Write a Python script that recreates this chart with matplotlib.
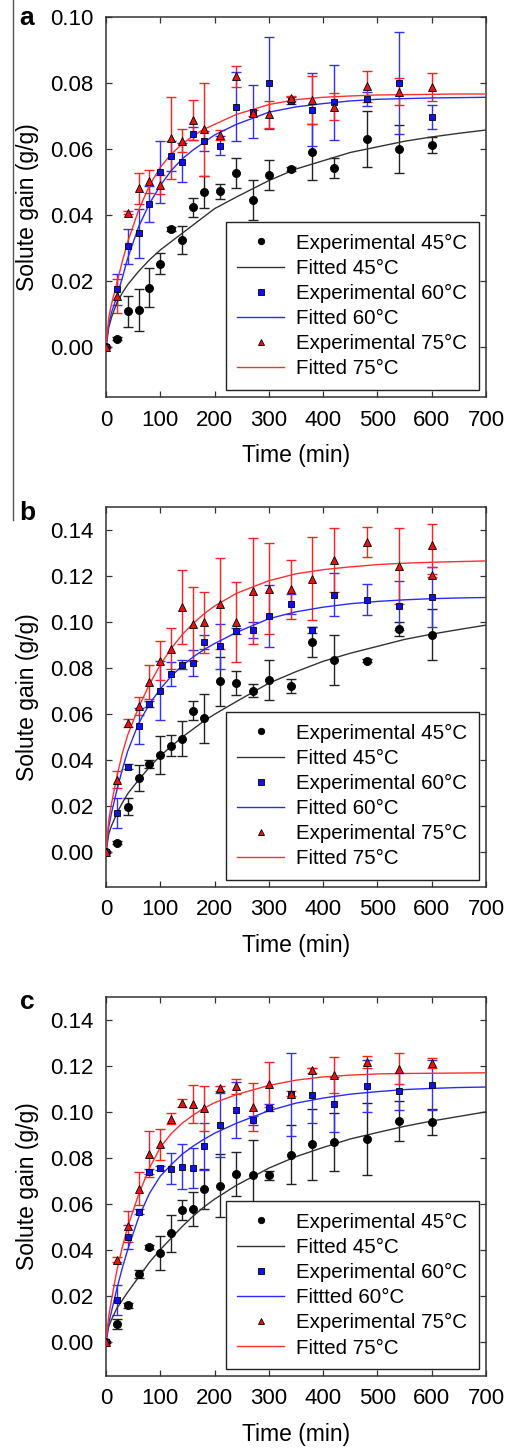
import matplotlib
matplotlib.use('Agg')
import matplotlib.pyplot as plt
from matplotlib.lines import Line2D

plt.rcParams['font.family'] = ['Liberation Sans', 'DejaVu Sans']

# sampling times (min)
time_exp = [0, 20, 40, 60, 80, 100, 120, 140, 160, 180, 210, 240, 270, 300, 340, 380, 420, 480, 540, 600]
time_fit = [0, 5, 10, 20, 30, 40, 60, 80, 100, 120, 140, 160, 180, 200, 240, 300, 350, 400, 450, 500, 550, 600, 650, 700]

# ---- panel a ----
a45 = [0, 0.0027, 0.0109, 0.0113, 0.018, 0.0254, 0.0358, 0.0326, 0.0424, 0.0471, 0.0472, 0.0528, 0.0447, 0.0521, 0.054, 0.0592, 0.0543, 0.063, 0.060, 0.0613]
a45_err = [0, 0.0005, 0.0046, 0.0064, 0.0059, 0.0033, 0.0007, 0.0042, 0.0029, 0.0048, 0.0023, 0.0045, 0.006, 0.0045, 0.0005, 0.0084, 0.0031, 0.0085, 0.0072, 0.0025]
a60 = [0, 0.0176, 0.0306, 0.0345, 0.0434, 0.053, 0.058, 0.056, 0.0647, 0.0625, 0.0611, 0.0729, 0.0713, 0.080, 0.0747, 0.072, 0.0742, 0.0753, 0.080, 0.0698]
a60_err = [0, 0.0047, 0.0052, 0.0073, 0.0055, 0.0094, 0.0045, 0.006, 0.002, 0.003, 0.003, 0.0105, 0.008, 0.0139, 0.001, 0.0111, 0.0114, 0.0021, 0.0154, 0.0036]
a75 = [0, 0.0155, 0.0408, 0.0481, 0.0503, 0.0493, 0.0635, 0.0625, 0.0688, 0.066, 0.0644, 0.082, 0.0709, 0.0705, 0.0754, 0.0749, 0.0729, 0.079, 0.0774, 0.0788]
a75_err = [0, 0.0052, 0.0005, 0.0047, 0.0035, 0.003, 0.0124, 0.0035, 0.006, 0.014, 0.0015, 0.0033, 0.001, 0.004, 0.0008, 0.0072, 0.004, 0.0047, 0.004, 0.0043]
fit_a45 = [0, 0.006, 0.009, 0.0135, 0.0165, 0.019, 0.023, 0.0265, 0.0295, 0.032, 0.0345, 0.037, 0.0395, 0.042, 0.0455, 0.0505, 0.054, 0.0565, 0.059, 0.0607, 0.0624, 0.0637, 0.0648, 0.0658]
fit_a60 = [0, 0.007, 0.0105, 0.0155, 0.021, 0.027, 0.0365, 0.0435, 0.049, 0.0535, 0.057, 0.0597, 0.062, 0.0643, 0.0675, 0.0712, 0.0728, 0.0738, 0.0746, 0.0751, 0.0753, 0.0755, 0.0756, 0.0757]
fit_a75 = [0, 0.009, 0.013, 0.0195, 0.026, 0.032, 0.0415, 0.049, 0.0545, 0.0585, 0.0615, 0.064, 0.066, 0.0675, 0.0705, 0.0735, 0.075, 0.0757, 0.0761, 0.0764, 0.0765, 0.0766, 0.0767, 0.0767]

# ---- panel b ----
b45 = [0, 0.0043, 0.0199, 0.0322, 0.0384, 0.0423, 0.0464, 0.0493, 0.0616, 0.0582, 0.0743, 0.0736, 0.0703, 0.0747, 0.0722, 0.0914, 0.0837, 0.0833, 0.0971, 0.0946]
b45_err = [0, 0.0007, 0.0038, 0.0057, 0.0017, 0.0083, 0.0046, 0.0076, 0.0043, 0.0106, 0.0106, 0.0051, 0.003, 0.0087, 0.0029, 0.0065, 0.0109, 0.0006, 0.0029, 0.0109]
b60 = [0, 0.0172, 0.0372, 0.0551, 0.0645, 0.0703, 0.0775, 0.0816, 0.0823, 0.0913, 0.0896, 0.0962, 0.0965, 0.1026, 0.1079, 0.0966, 0.112, 0.1098, 0.1071, 0.1108]
b60_err = [0, 0.0064, 0.001, 0.0078, 0.0012, 0.0128, 0.0053, 0.002, 0.0058, 0.003, 0.0098, 0.0012, 0.0035, 0.0136, 0.0044, 0.0015, 0.0093, 0.0069, 0.0106, 0.013]
time_b75 = time_exp + [600]
b75 = [0, 0.0316, 0.0561, 0.0635, 0.0742, 0.0833, 0.0885, 0.1065, 0.0991, 0.100, 0.108, 0.100, 0.1137, 0.1145, 0.1142, 0.1188, 0.1271, 0.1348, 0.1243, 0.1333, 0.1203]
b75_err = [0, 0.0036, 0.0018, 0.004, 0.0074, 0.0085, 0.0089, 0.016, 0.016, 0.0132, 0.0197, 0.0174, 0.023, 0.0198, 0.013, 0.018, 0.0138, 0.0065, 0.0164, 0.0093, 0.0005]
fit_b45 = [0, 0.008, 0.0115, 0.017, 0.0215, 0.0255, 0.0315, 0.037, 0.042, 0.046, 0.050, 0.0535, 0.057, 0.060, 0.0655, 0.0735, 0.0785, 0.083, 0.0865, 0.0895, 0.0925, 0.0948, 0.0968, 0.0987]
fit_b60 = [0, 0.011, 0.017, 0.027, 0.036, 0.044, 0.056, 0.0645, 0.071, 0.0765, 0.081, 0.0848, 0.088, 0.0907, 0.0955, 0.1015, 0.1045, 0.1065, 0.108, 0.109, 0.1097, 0.1102, 0.1105, 0.1107]
fit_b75 = [0, 0.014, 0.021, 0.033, 0.043, 0.051, 0.063, 0.073, 0.0815, 0.0885, 0.0945, 0.0993, 0.1035, 0.107, 0.1125, 0.118, 0.121, 0.1228, 0.124, 0.125, 0.1256, 0.126, 0.1263, 0.1266]

# ---- panel c ----
c45 = [0, 0.0076, 0.0157, 0.0294, 0.0411, 0.0385, 0.0471, 0.0571, 0.0577, 0.0664, 0.0679, 0.073, 0.0727, 0.0723, 0.0814, 0.0858, 0.0868, 0.0883, 0.096, 0.0955]
c45_err = [0, 0.002, 0.001, 0.0018, 0.001, 0.0073, 0.0081, 0.0044, 0.0073, 0.0087, 0.0136, 0.0095, 0.015, 0.0018, 0.0127, 0.0155, 0.0126, 0.0156, 0.0086, 0.0056]
c60 = [0, 0.0182, 0.0455, 0.0566, 0.074, 0.0756, 0.0753, 0.076, 0.0756, 0.085, 0.0942, 0.1008, 0.0963, 0.1018, 0.1076, 0.1072, 0.1032, 0.1112, 0.109, 0.1117]
c60_err = [0, 0.0065, 0.0053, 0.001, 0.001, 0.001, 0.0069, 0.0098, 0.0087, 0.0102, 0.014, 0.012, 0.002, 0.0015, 0.018, 0.012, 0.0119, 0.0112, 0.0081, 0.0107]
c75 = [0, 0.0356, 0.0502, 0.0666, 0.0817, 0.0858, 0.0971, 0.104, 0.1035, 0.1015, 0.1102, 0.1112, 0.1022, 0.112, 0.1079, 0.1181, 0.116, 0.1217, 0.1188, 0.1214]
c75_err = [0, 0.001, 0.0067, 0.0071, 0.01, 0.0069, 0.0025, 0.0018, 0.0084, 0.0098, 0.001, 0.0033, 0.0104, 0.0097, 0.0012, 0.001, 0.0077, 0.0028, 0.0067, 0.0022]
fit_c45 = [0, 0.0065, 0.0095, 0.0145, 0.018, 0.0215, 0.028, 0.0345, 0.040, 0.045, 0.050, 0.0545, 0.0585, 0.062, 0.068, 0.0755, 0.0805, 0.0845, 0.0882, 0.091, 0.0937, 0.096, 0.098, 0.100]
fit_c60 = [0, 0.008, 0.013, 0.023, 0.032, 0.040, 0.054, 0.0645, 0.072, 0.077, 0.0815, 0.085, 0.088, 0.0907, 0.095, 0.1005, 0.1038, 0.106, 0.1077, 0.1088, 0.1097, 0.1102, 0.1106, 0.1108]
fit_c75 = [0, 0.011, 0.018, 0.031, 0.041, 0.050, 0.064, 0.0755, 0.0845, 0.0905, 0.095, 0.0985, 0.1015, 0.104, 0.1075, 0.1115, 0.1138, 0.1152, 0.116, 0.1165, 0.1167, 0.1168, 0.1169, 0.117]

labels_ab = ['Experimental 45°C', 'Fitted 45°C', 'Experimental 60°C', 'Fitted 60°C', 'Experimental 75°C', 'Fitted 75°C']
labels_c = ['Experimental 45°C', 'Fitted 45°C', 'Experimental 60°C', 'Fittted 60°C', 'Experimental 75°C', 'Fitted 75°C']

W, H = 508, 1449


def draw_panel(ax, series, fits, labels, ymax, yticks):
    styles = [
        dict(marker='o', mfc='black', ms=5.8, ecol='#222222', lcol='#333333'),
        dict(marker='s', mfc='#1010ee', ms=4.8, ecol='#3030ff', lcol='#2a2aff'),
        dict(marker='^', mfc='#ee1010', ms=5.8, ecol='#ff2020', lcol='#ff3030'),
    ]
    for (t, y, e), yf, st in zip(series, fits, styles):
        ax.errorbar(t, y, yerr=e, fmt='none', ecolor=st['ecol'], elinewidth=1,
                    capsize=3.6, capthick=1, zorder=2)
    handles = []
    for (t, y, e), yf, st in zip(series, fits, styles):
        ln, = ax.plot(time_fit, yf, color=st['lcol'], lw=1, zorder=3)
        mk, = ax.plot(t, y, linestyle='none', marker=st['marker'], mfc=st['mfc'],
                      mec='black', mew=0.6, ms=st['ms'], zorder=4)
        handles += [mk, ln]
    ax.set_xlim(0, 700)
    ax.set_ylim(-0.015, ymax)
    ax.set_xticks(range(0, 701, 100))
    ax.set_yticks(yticks)
    ax.set_yticklabels(['%.2f' % v for v in yticks])
    ax.tick_params(direction='in', top=True, right=True, length=4, width=0.9,
                   labelsize=16, color='#333333')
    ax.tick_params(axis='x', pad=9)
    ax.tick_params(axis='y', pad=9)
    for s in ax.spines.values():
        s.set_linewidth(1.1)
        s.set_color('#333333')
    ax.set_xlabel('Time (min)', fontsize=16.5, labelpad=10)
    ax.set_ylabel('Solute gain (g/g)', fontsize=16.5, labelpad=8)
    leg = ax.legend(handles, labels, loc='lower right', fontsize=14.8, frameon=True,
                    fancybox=False, edgecolor='#222222', framealpha=1,
                    borderaxespad=0.35, borderpad=0.55, labelspacing=0.3,
                    handlelength=2.3, handletextpad=0.58, markerscale=0.8)
    leg.get_frame().set_linewidth(1.0)
    leg.set_zorder(5)


fig = plt.figure(figsize=(W / 100, H / 100), dpi=100)

ax_a = fig.add_axes([106 / W, 1 - 397 / H, 380 / W, 380 / H])
draw_panel(ax_a,
           [(time_exp, a45, a45_err), (time_exp, a60, a60_err), (time_exp, a75, a75_err)],
           [fit_a45, fit_a60, fit_a75], labels_ab, 0.10,
           [0.00, 0.02, 0.04, 0.06, 0.08, 0.10])

ax_b = fig.add_axes([106 / W, 1 - 887 / H, 380 / W, 380 / H])
draw_panel(ax_b,
           [(time_exp, b45, b45_err), (time_exp, b60, b60_err), (time_b75, b75, b75_err)],
           [fit_b45, fit_b60, fit_b75], labels_ab, 0.15,
           [0.00, 0.02, 0.04, 0.06, 0.08, 0.10, 0.12, 0.14])

ax_c = fig.add_axes([106 / W, 1 - 1376 / H, 380 / W, 379 / H])
draw_panel(ax_c,
           [(time_exp, c45, c45_err), (time_exp, c60, c60_err), (time_exp, c75, c75_err)],
           [fit_c45, fit_c60, fit_c75], labels_c, 0.15,
           [0.00, 0.02, 0.04, 0.06, 0.08, 0.10, 0.12, 0.14])

for letter, ypix in [('a', 18), ('b', 513), ('c', 1002)]:
    fig.text(27 / W, 1 - ypix / H, letter, ha='center', va='center',
             fontsize=19, fontweight='bold')

# thin page rule on the left edge
fig.add_artist(Line2D([13 / W, 13 / W], [1, 1 - 520 / H], color='#555555', lw=1))

fig.savefig('out.png', dpi=100)
